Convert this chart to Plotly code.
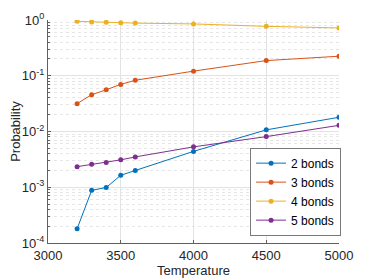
import plotly.graph_objects as go

temperature = [3200, 3300, 3400, 3500, 3600, 4000, 4500, 5000]
bonds2 = [1.8e-4, 8.8e-4, 9.9e-4, 1.64e-3, 2.0e-3, 4.4e-3, 1.07e-2, 1.8e-2]
bonds3 = [0.0316, 0.0457, 0.056, 0.070, 0.083, 0.121, 0.187, 0.224]
bonds4 = [0.946, 0.925, 0.91, 0.896, 0.88, 0.85, 0.77, 0.72]
bonds5 = [2.34e-3, 2.58e-3, 2.77e-3, 3.1e-3, 3.5e-3, 5.3e-3, 8.1e-3, 1.29e-2]

series_names = ["2 bonds", "3 bonds", "4 bonds", "5 bonds"]
colors = ["#0072BD", "#D95319", "#EDB120", "#7E2F8E"]

x_ticks = [3000, 3500, 4000, 4500, 5000]
y_tickvals = [1e-4, 1e-3, 1e-2, 1e-1, 1]
y_ticktext = ["10<sup>-4</sup>", "10<sup>-3</sup>", "10<sup>-2</sup>", "10<sup>-1</sup>", "10<sup>0</sup>"]
y_minor = [m * d for d in [1e-4, 1e-3, 1e-2, 1e-1] for m in range(2, 10)]

fig = go.Figure()
for name, vals, c in zip(series_names, [bonds2, bonds3, bonds4, bonds5], colors):
    fig.add_trace(go.Scatter(x=temperature, y=vals, name=name, mode="lines+markers",
                             line=dict(color=c, width=1), marker=dict(color=c, size=5)))

font = dict(family="Liberation Sans, Arial, sans-serif", size=13, color="#262626")
fig.update_layout(
    width=366, height=272,
    margin=dict(l=40, r=35, t=12, b=37, autoexpand=False),
    plot_bgcolor="white", paper_bgcolor="white",
    font=font,
    showlegend=True,
    legend=dict(x=0.85, y=0.229, xanchor="center", yanchor="middle",
                bgcolor="white", bordercolor="#404040", borderwidth=0.7,
                font=dict(size=12, color="#000"), tracegroupgap=0,
                itemwidth=30),
    xaxis=dict(range=[3000, 5000], tickvals=x_ticks, showgrid=True, gridcolor="#e3e3e3",
               gridwidth=1, showline=True, linecolor="#606060", linewidth=1,
               ticks="inside", ticklen=3, tickcolor="#606060", zeroline=False,
               tickfont=dict(size=13), automargin=False,
               title=dict(text="Temperature", standoff=3, font=dict(size=13))),
    yaxis=dict(type="log", range=[-4, 0], tickvals=y_tickvals, ticktext=y_ticktext,
               showgrid=True, gridcolor="#e3e3e3", gridwidth=1, showline=True,
               linecolor="#606060", linewidth=1, ticks="inside", ticklen=3,
               tickcolor="#606060", zeroline=False, tickfont=dict(size=13),
               automargin=False,
               minor=dict(tickvals=y_minor, showgrid=True, gridcolor="#e6e6e6",
                          griddash="dot", ticks="inside", ticklen=2, tickcolor="#606060"),
               title=dict(text="Probability", standoff=20, font=dict(size=13))),
)
fig.write_html("out.html")
